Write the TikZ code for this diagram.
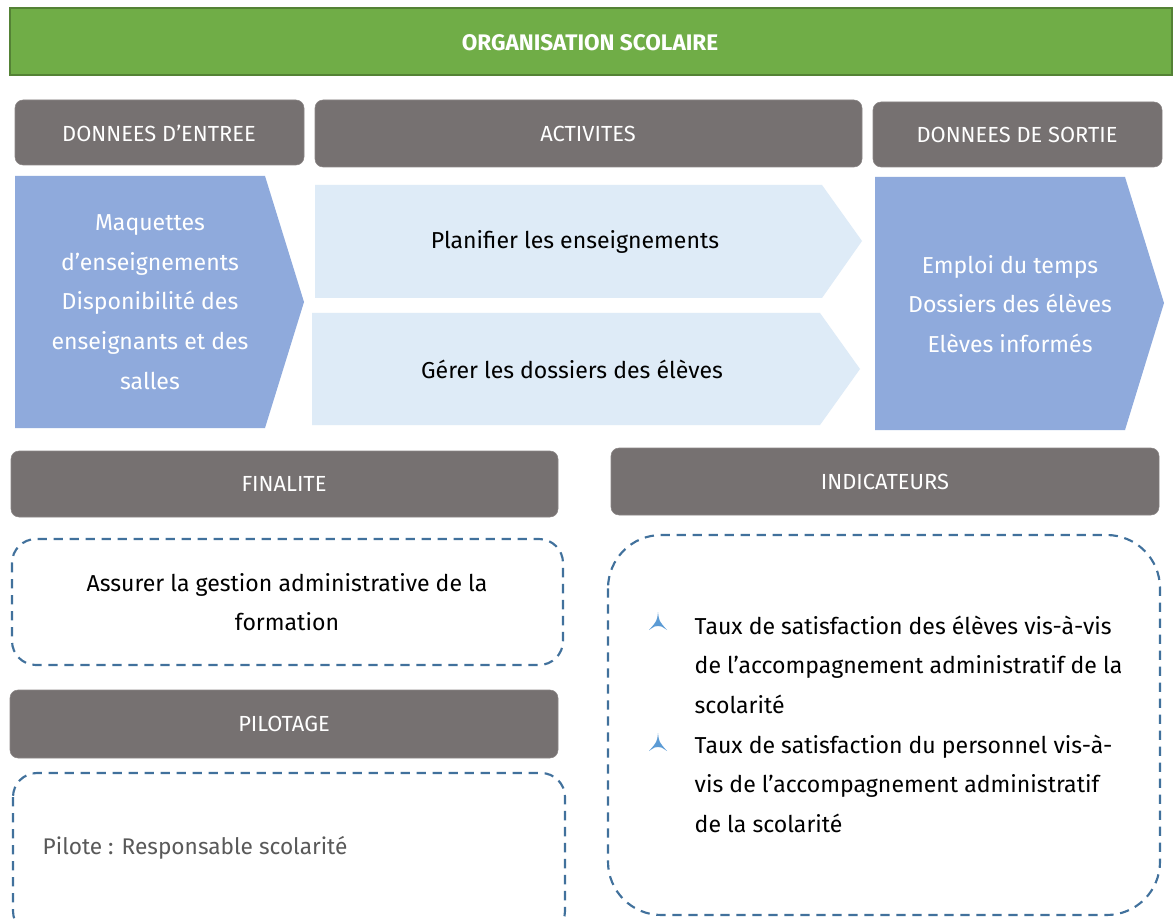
\documentclass[tikz,border=0pt]{standalone}
\usepackage{fontspec}
\setmainfont{Fira Sans}
\definecolor{greenbar}{HTML}{70AD47}
\definecolor{greenedge}{HTML}{548235}
\definecolor{hdrgray}{HTML}{767171}
\definecolor{chevblue}{HTML}{8FAADC}
\definecolor{chevlight}{HTML}{DEEBF7}
\definecolor{dashblue}{HTML}{41719C}
\definecolor{bulletblue}{HTML}{5B9BD5}
\definecolor{pilotgray}{HTML}{595959}
\begin{document}
\begin{tikzpicture}[x=0.75pt,y=-0.75pt,
  hdr/.style={fill=hdrgray,draw=hdrgray!85!white,rounded corners=6pt},
  hdrtext/.style={text=white,font=\fontsize{16.4}{20}\selectfont},
  bodytext/.style={font=\fontsize{17.3}{29.7}\selectfont,align=center},
  dashbox/.style={draw=dashblue,line width=1.6pt,dash pattern=on 7pt off 5pt},
  bul/.style={fill=bulletblue}]
\useasboundingbox (0,0) rectangle (1176,919);
\fill[white] (0,0) rectangle (1176,919);
% title
\draw[fill=greenbar,draw=greenedge,line width=1.2pt] (10,8) rectangle (1172,75);
\node[text=white,font=\fontsize{16.9}{20}\selectfont\bfseries] (title) at (590,43) {ORGANISATION SCOLAIRE};
% headers
\draw[hdr] (15,100) rectangle (304,165);
\node[hdrtext] (hin) at (159,133) {DONNEES D’ENTREE};
\draw[hdr] (315,100) rectangle (862,167);
\node[hdrtext] (hact) at (588,134) {ACTIVITES};
\draw[hdr] (873,102) rectangle (1162,167);
\node[hdrtext] (hout) at (1017,135) {DONNEES DE SORTIE};
\draw[hdr] (11,451) rectangle (558,517);
\node[hdrtext] (hfin) at (284,484) {FINALITE};
\draw[hdr] (611,448) rectangle (1159,515);
\node[hdrtext] (hind) at (885,482) {INDICATEURS};
\draw[hdr] (10,690) rectangle (558,758);
\node[hdrtext] (hpil) at (284,724) {PILOTAGE};
% input chevron
\fill[chevblue] (15,176) -- (265,176) -- (304,302) -- (265,428) -- (15,428) -- cycle;
\node[bodytext,text=white] (in) at (150,302) {Maquettes\\d’enseignements\\Disponibilité des\\enseignants et des\\salles};
% activities
\fill[chevlight] (315,185) -- (822,185) -- (862,241) -- (822,298) -- (315,298) -- cycle;
\node[bodytext] (a1) at (575,242) {Planifier les enseignements};
\fill[chevlight] (312,313) -- (820,313) -- (860,369) -- (820,425) -- (312,425) -- cycle;
\node[bodytext] (a2) at (572,369) {Gérer les dossiers des élèves};
% output chevron
\fill[chevblue] (875,177) -- (1125,177) -- (1164,303) -- (1125,430) -- (875,430) -- cycle;
\node[bodytext,text=white] (out) at (1010,304) {Emploi du temps\\Dossiers des élèves\\Elèves informés};
% dashed boxes
\draw[dashbox,rounded corners=18pt] (12,539) rectangle (563,665);
\node[bodytext] (fin) at (287,602) {Assurer la gestion administrative de la\\formation};
\draw[dashbox,rounded corners=18pt] (13,773) rectangle (565,935);
\node[font=\fontsize{17}{20}\selectfont,text=pilotgray,anchor=west] (pil) at (38,848) {Pilote : Responsable scolarité};
\draw[dashbox,rounded corners=40pt] (608,535) rectangle (1160,915);
% bullets
\fill[bul] (658,612) .. controls (659,621) .. (667,630) .. controls (661,626) .. (658,626) .. controls (655,626) .. (649,630) .. controls (657,621) .. cycle;
\fill[bul] (658,733) .. controls (659,742) .. (667,751) .. controls (661,747) .. (658,747) .. controls (655,747) .. (649,751) .. controls (657,742) .. cycle;
\node[bodytext,align=left,anchor=north west] (i1) at (690,611) {Taux de satisfaction des élèves vis-à-vis\\de l’accompagnement administratif de la\\scolarité};
\node[bodytext,align=left,anchor=north west] (i2) at (690,730) {Taux de satisfaction du personnel vis-à-\\vis de l’accompagnement administratif\\de la scolarité};
\end{tikzpicture}
\end{document}
